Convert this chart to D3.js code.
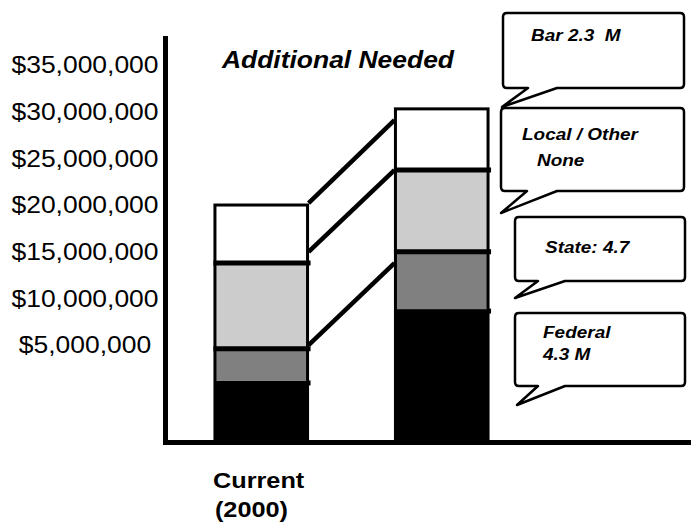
<!DOCTYPE html>
<html>
<head>
<meta charset="utf-8">
<script src="https://cdn.jsdelivr.net/npm/d3@7"></script>
<style>
  body { margin: 0; background: #fff; }
  text { font-family: Arial, "Liberation Sans", sans-serif; }
</style>
</head>
<body>
<svg class="chart" width="691" height="523"></svg>
<script>
// categories (second column has no label in the original)
var categories = ["Current", "Additional"];
var categoryLabels = [["Current", "(2000)"], []];
var keys = ["federal", "state", "local", "bar"];
var colors = ["#000000", "#808080", "#cccccc", "#ffffff"];

// segment amounts in $M (federal counted from the axis floor)
var federal = [1.15, 8.85];
var state = [3.45, 6.15];
var local = [9.2, 8.75];
var bar = [6.2, 6.55];

var tickValues = [5e6, 10e6, 15e6, 20e6, 25e6, 30e6, 35e6];

// connector lines: level on current bar -> level on next bar ($M)
var connectFrom = [20.2, 14.97, 5.0];
var connectTo = [29.1, 23.75, 13.78];

var calloutText = [["Bar 2.3  M"], ["Local / Other", "None"], ["State: 4.7"], ["Federal", "4.3 M"]];

// callout layout (box, tail, text offsets)
var calloutBoxes = [
  {x: 503, y: 13, w: 181, h: 75, tb: [528, 557], tip: [502, 107], tx: [28], ty: [28]},
  {x: 501, y: 108, w: 183, h: 83, tb: [527, 557], tip: [501, 213], tx: [21, 36], ty: [32, 58]},
  {x: 515, y: 217, w: 170, h: 64, tb: [538, 565], tip: [515, 298], tx: [30], ty: [36]},
  {x: 515, y: 313, w: 170, h: 73, tb: [538, 565], tip: [517, 405], tx: [28, 28], ty: [25, 47]}
];

// the original text is drawn a bit wide
var stretch = 1.15;

var data = categories.map(function(c, i) {
  return {cat: c, federal: federal[i] * 1e6, state: state[i] * 1e6, local: local[i] * 1e6, bar: bar[i] * 1e6};
});

var svg = d3.select(".chart");
var baseY = 440;

var y = d3.scaleLinear()
  .domain([0, 35e6])
  .range([391.7, 65]);
var floor = y.invert(baseY);

var x = d3.scaleBand()
  .domain(categories)
  .range([171, 532])
  .paddingInner(0.487)
  .paddingOuter(0.2435);
var bw = x.bandwidth();

function place(px, py) {
  return "translate(" + px + "," + py + ") scale(" + stretch + ",1)";
}

// stacked segments
var stacks = data.map(function(d) {
  var cum = 0, segs = [];
  keys.forEach(function(k, i) {
    var y0 = i === 0 ? floor : cum;
    cum += d[k];
    segs.push({cat: d.cat, key: k, i: i, y0: y0, y1: cum});
  });
  return segs;
});

var groups = svg.selectAll("g.stack")
  .data(stacks)
  .enter().append("g")
  .attr("class", "stack");

groups.selectAll("rect.seg")
  .data(function(d) { return d; })
  .enter().append("rect")
  .attr("class", "seg")
  .attr("x", function(d) { return x(d.cat); })
  .attr("y", function(d) { return y(d.y1); })
  .attr("width", bw)
  .attr("height", function(d) { return y(d.y0) - y(d.y1); })
  .attr("fill", function(d) { return colors[d.i]; });

// outline of whole bar
groups.append("rect")
  .attr("x", function(d) { return x(d[0].cat); })
  .attr("y", function(d) { return y(d[3].y1); })
  .attr("width", bw)
  .attr("height", function(d) { return baseY - y(d[3].y1); })
  .attr("fill", "none")
  .attr("stroke", "#000")
  .attr("stroke-width", 3);

// thick separators above state and local
groups.selectAll("line.sep")
  .data(function(d) { return d.slice(1, 3); })
  .enter().append("line")
  .attr("class", "sep")
  .attr("x1", function(d) { return x(d.cat) - 1.5; })
  .attr("x2", function(d) { return x(d.cat) + bw + 3; })
  .attr("y1", function(d) { return y(d.y1); })
  .attr("y2", function(d) { return y(d.y1); })
  .attr("stroke", "#000")
  .attr("stroke-width", 5);

// small tick at top of federal
groups.append("line")
  .attr("x1", function(d) { return x(d[0].cat) + bw; })
  .attr("x2", function(d) { return x(d[0].cat) + bw + 3; })
  .attr("y1", function(d) { return y(d[0].y1) + 2; })
  .attr("y2", function(d) { return y(d[0].y1) + 2; })
  .attr("stroke", "#000")
  .attr("stroke-width", 5);

// connectors
svg.selectAll("line.conn")
  .data(connectFrom)
  .enter().append("line")
  .attr("class", "conn")
  .attr("x1", x(categories[0]) + bw + 1)
  .attr("x2", x(categories[1]) - 1)
  .attr("y1", function(d) { return y(d * 1e6); })
  .attr("y2", function(d, i) { return y(connectTo[i] * 1e6); })
  .attr("stroke", "#000")
  .attr("stroke-width", 4.5);

// axes
svg.append("line")
  .attr("x1", 165.5).attr("x2", 165.5)
  .attr("y1", 36).attr("y2", 445)
  .attr("stroke", "#000").attr("stroke-width", 5);
svg.append("line")
  .attr("x1", 163).attr("x2", 691)
  .attr("y1", 442.5).attr("y2", 442.5)
  .attr("stroke", "#000").attr("stroke-width", 5);

svg.selectAll("text.tick")
  .data(tickValues)
  .enter().append("text")
  .attr("class", "tick")
  .attr("transform", function(d) { return place(85, y(d)); })
  .attr("dy", "0.36em")
  .attr("text-anchor", "middle")
  .style("font-size", "23px")
  .text(function(d) { return "$" + d3.format(",")(d); });

// category labels
svg.selectAll("g.catlabel")
  .data(categories)
  .enter().append("g")
  .attr("class", "catlabel")
  .selectAll("text")
  .data(function(d, i) { return categoryLabels[i].map(function(t) { return {cat: d, t: t}; }); })
  .enter().append("text")
  .attr("transform", function(d, j) { return place(x(d.cat) - 2 + j * 2, 488 + j * 29); })
  .style("font-size", "22px")
  .style("font-weight", "bold")
  .text(function(d) { return d.t; });

// title
svg.append("text")
  .attr("transform", place(338, 68))
  .attr("text-anchor", "middle")
  .style("font-size", "23px")
  .style("font-weight", "bold")
  .style("font-style", "italic")
  .text("Additional Needed");

// callouts
function calloutPath(b) {
  var x0 = b.x, y0 = b.y, x1 = b.x + b.w, y1 = b.y + b.h, r = 4;
  return "M" + (x0 + r) + "," + y0 + "H" + (x1 - r) + "Q" + x1 + "," + y0 + " " + x1 + "," + (y0 + r) +
    "V" + (y1 - r) + "Q" + x1 + "," + y1 + " " + (x1 - r) + "," + y1 +
    "H" + b.tb[1] + "L" + b.tip[0] + "," + b.tip[1] + "L" + b.tb[0] + "," + y1 +
    "H" + (x0 + r) + "Q" + x0 + "," + y1 + " " + x0 + "," + (y1 - r) +
    "V" + (y0 + r) + "Q" + x0 + "," + y0 + " " + (x0 + r) + "," + y0 + "Z";
}

var callouts = svg.selectAll("g.callout")
  .data(calloutBoxes)
  .enter().append("g")
  .attr("class", "callout");

callouts.append("path")
  .attr("d", calloutPath)
  .attr("fill", "#fff")
  .attr("stroke", "#000")
  .attr("stroke-width", 2.5)
  .attr("stroke-linejoin", "round");

callouts.selectAll("text")
  .data(function(b, i) { return calloutText[i].map(function(t, j) { return {t: t, x: b.x + b.tx[j], y: b.y + b.ty[j]}; }); })
  .enter().append("text")
  .attr("transform", function(d) { return place(d.x, d.y); })
  .style("font-size", "16.5px")
  .style("font-weight", "bold")
  .style("font-style", "italic")
  .style("white-space", "pre")
  .text(function(d) { return d.t; });
</script>
</body>
</html>
